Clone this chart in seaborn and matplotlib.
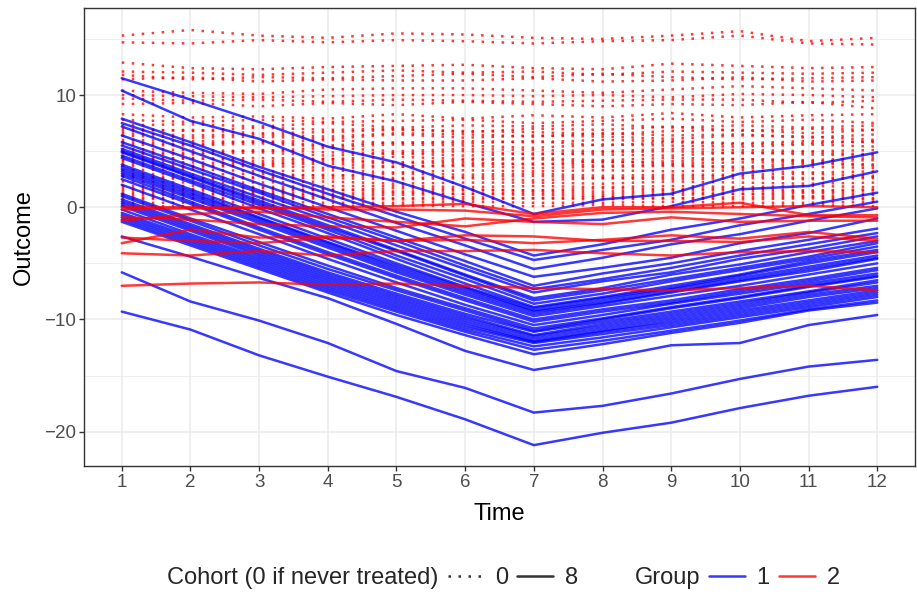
import matplotlib
matplotlib.use("Agg")
import matplotlib.pyplot as plt
from matplotlib.lines import Line2D
import pandas as pd
import seaborn as sns

time = list(range(1, 13))

# Group 1, cohort 8 (blue, solid)
blue_cohort8 = [
    [11.5, 9.6, 7.6, 5.4, 4.0, 1.8, -0.6, 0.7, 1.2, 3.0, 3.7, 4.9],
    [10.4, 7.7, 6.1, 3.7, 2.3, 0.4, -1.3, -1.1, 0.1, 1.6, 1.9, 3.2],
    [7.9, 5.8, 3.6, 1.6, -0.4, -2.2, -4.3, -3.3, -2.0, -1.0, 0.2, 1.3],
    [7.5, 5.5, 3.3, 1.2, -0.8, -2.8, -4.7, -3.8, -2.9, -1.6, -0.6, 0.5],
    [7.2, 5.0, 2.8, 0.7, -1.4, -3.4, -5.5, -4.5, -3.3, -2.4, -1.2, -0.1],
    [6.4, 4.3, 2.1, 0.0, -2.1, -4.2, -6.2, -5.4, -4.5, -3.2, -2.3, -1.0],
    [5.8, 3.7, 1.5, -0.6, -2.7, -4.8, -7.0, -5.9, -5.0, -3.9, -2.9, -1.9],
    [5.5, 3.4, 1.3, -0.9, -3.0, -5.2, -7.3, -6.4, -5.4, -4.3, -3.3, -2.3],
    [5.2, 3.0, 0.9, -1.2, -3.4, -5.5, -7.6, -6.6, -5.8, -4.6, -3.7, -2.6],
    [5.0, 2.8, 0.6, -1.6, -3.8, -6.0, -8.1, -7.2, -6.0, -5.1, -4.0, -3.0],
    [4.9, 2.7, 0.4, -1.8, -3.9, -6.1, -8.3, -7.4, -6.4, -5.4, -4.4, -3.2],
    [4.6, 2.4, 0.2, -2.0, -4.3, -6.4, -8.6, -7.7, -6.6, -5.6, -4.6, -3.5],
    [4.4, 2.2, -0.1, -2.3, -4.6, -6.8, -8.9, -8.0, -7.0, -6.0, -4.8, -3.8],
    [3.8, 1.6, -0.6, -2.8, -5.0, -7.1, -9.0, -8.1, -7.2, -6.1, -5.0, -4.0],
    [3.6, 1.4, -0.9, -3.1, -5.2, -7.2, -9.2, -8.3, -7.3, -6.3, -5.3, -4.3],
    [3.4, 1.2, -1.0, -3.2, -5.4, -7.4, -9.3, -8.5, -7.5, -6.5, -5.5, -4.5],
    [3.2, 1.0, -1.2, -3.4, -5.6, -7.6, -9.5, -8.6, -7.6, -6.6, -5.7, -4.6],
    [3.0, 0.8, -1.4, -3.6, -5.8, -7.8, -9.7, -8.8, -7.9, -7.0, -6.0, -5.0],
    [2.8, 0.5, -1.8, -4.0, -6.1, -8.1, -10.0, -9.1, -8.3, -7.3, -6.4, -5.4],
    [2.5, 0.3, -2.0, -4.2, -6.3, -8.3, -10.2, -9.3, -8.5, -7.5, -6.6, -5.6],
    [2.0, -0.2, -2.4, -4.6, -6.7, -8.7, -10.5, -9.6, -8.6, -7.7, -6.8, -5.9],
    [1.2, -1.0, -3.1, -5.2, -7.2, -9.0, -10.8, -9.9, -8.9, -8.0, -7.0, -6.1],
    [1.0, -1.2, -3.4, -5.5, -7.4, -9.2, -11.0, -10.0, -9.0, -8.1, -7.1, -6.2],
    [0.7, -1.5, -3.7, -5.8, -7.7, -9.5, -11.1, -10.2, -9.3, -8.4, -7.5, -6.5],
    [0.5, -1.7, -3.9, -6.0, -7.9, -9.7, -11.4, -10.4, -9.5, -8.6, -7.6, -6.7],
    [0.3, -1.9, -4.1, -6.2, -8.1, -9.9, -11.5, -10.6, -9.7, -8.8, -7.8, -7.0],
    [0.1, -2.1, -4.3, -6.4, -8.3, -10.1, -11.7, -10.8, -9.9, -9.0, -8.0, -7.2],
    [-0.2, -2.4, -4.5, -6.6, -8.5, -10.3, -11.9, -11.0, -10.1, -9.2, -8.3, -7.4],
    [-0.5, -2.6, -4.7, -6.8, -8.7, -10.5, -12.0, -11.1, -10.3, -9.4, -8.5, -7.6],
    [-0.7, -2.8, -4.9, -7.0, -8.9, -10.7, -12.1, -11.3, -10.5, -9.6, -8.7, -7.8],
    [-0.9, -3.0, -5.1, -7.2, -9.1, -10.9, -12.4, -11.6, -10.7, -9.8, -8.9, -8.0],
    [-1.1, -3.2, -5.3, -7.4, -9.3, -11.1, -12.7, -11.9, -11.0, -10.1, -9.1, -8.3],
    [-1.3, -3.4, -5.5, -7.6, -9.6, -11.4, -13.1, -12.2, -11.2, -10.3, -9.2, -8.5],
    [-2.6, -4.4, -6.3, -8.1, -10.4, -12.8, -14.5, -13.5, -12.3, -12.1, -10.5, -9.6],
    [-5.8, -8.4, -10.1, -12.1, -14.6, -16.1, -18.3, -17.7, -16.6, -15.3, -14.2, -13.6],
    [-9.3, -10.9, -13.2, -15.1, -16.9, -18.9, -21.2, -20.1, -19.2, -17.9, -16.8, -16.0],
]

# Group 2, cohort 8 (red, solid)
red_cohort8 = [
    [0.0, 0.0, -0.1, 0.0, 0.1, 0.3, -0.6, 0.0, 0.0, 0.4, -0.7, -0.7],
    [-0.2, -0.1, 0.0, -0.2, -0.2, -0.3, -0.8, -0.2, -0.1, 0.0, 0.1, 0.0],
    [-0.9, -1.1, -1.5, -1.7, -1.8, -1.0, -1.3, -1.5, -0.9, -1.3, -1.2, -1.2],
    [-1.2, -0.6, -0.4, -0.9, -1.3, -1.7, -1.0, -0.5, -0.4, -0.6, -0.8, -0.9],
    [-2.7, -3.0, -3.2, -2.7, -3.0, -2.9, -3.2, -2.9, -2.5, -2.8, -2.2, -2.8],
    [-3.2, -2.0, -2.7, -2.6, -3.0, -2.5, -2.6, -3.0, -3.0, -3.1, -2.6, -3.0],
    [-4.1, -4.3, -3.9, -4.3, -3.9, -3.9, -3.8, -4.1, -4.3, -4.0, -3.9, -4.0],
    [-7.0, -6.8, -6.7, -6.9, -6.8, -7.0, -7.2, -7.3, -7.4, -7.2, -7.0, -7.4],
]

# Group 2, cohort 0 / never treated (red, dotted)
red_cohort0 = [
    [15.3, 15.8, 15.3, 15.1, 15.5, 15.4, 15.1, 15.0, 15.3, 15.7, 14.8, 15.1],
    [14.7, 14.6, 14.9, 14.7, 14.9, 14.8, 14.6, 14.8, 14.9, 15.3, 14.6, 14.5],
    [12.9, 12.4, 12.3, 12.5, 12.6, 12.7, 12.4, 12.3, 12.8, 12.6, 12.4, 12.5],
    [12.1, 12.0, 11.8, 12.0, 12.2, 12.0, 12.1, 11.8, 12.1, 12.0, 11.9, 12.0],
    [11.8, 11.4, 11.6, 11.5, 11.7, 11.9, 11.6, 11.9, 11.6, 11.4, 11.5, 11.6],
    [11.4, 11.6, 11.2, 11.4, 11.3, 11.3, 11.5, 11.2, 11.3, 11.6, 11.2, 11.3],
    [10.4, 10.2, 10.1, 10.5, 10.6, 10.6, 10.4, 10.2, 10.5, 10.8, 10.6, 10.4],
    [10.0, 9.9, 9.8, 9.9, 10.0, 10.0, 9.9, 10.0, 9.8, 10.1, 10.0, 9.8],
    [9.7, 9.5, 9.6, 9.4, 9.6, 9.5, 9.4, 9.5, 9.6, 9.6, 9.3, 9.5],
    [9.2, 9.3, 9.0, 9.3, 9.1, 9.4, 9.2, 9.0, 9.2, 9.1, 9.4, 8.8],
    [8.3, 8.0, 8.1, 7.9, 8.3, 7.9, 8.2, 8.0, 8.4, 8.0, 8.2, 8.3],
    [7.8, 7.6, 7.8, 7.6, 7.7, 7.8, 7.5, 7.7, 7.9, 7.6, 7.8, 7.5],
    [7.3, 7.4, 7.2, 7.5, 7.1, 7.3, 7.2, 7.4, 7.1, 7.3, 7.1, 7.3],
    [7.0, 6.8, 7.1, 6.9, 7.0, 6.7, 7.0, 6.9, 7.2, 6.8, 7.0, 6.9],
    [6.8, 6.9, 6.6, 6.7, 6.9, 6.8, 6.7, 6.5, 6.8, 6.9, 6.6, 6.9],
    [6.6, 6.4, 6.5, 6.3, 6.6, 6.5, 6.3, 6.6, 6.4, 6.5, 6.2, 6.5],
    [6.4, 6.2, 6.3, 6.1, 6.5, 6.2, 6.4, 6.3, 6.1, 6.4, 6.3, 6.0],
    [6.0, 5.9, 5.8, 6.0, 5.7, 5.9, 5.8, 6.0, 5.9, 5.7, 5.9, 5.8],
    [5.8, 5.6, 5.9, 5.5, 5.8, 5.7, 5.9, 5.5, 5.8, 5.6, 5.7, 5.9],
    [5.6, 5.5, 5.7, 5.4, 5.6, 5.5, 5.3, 5.6, 5.5, 5.4, 5.6, 5.4],
    [5.2, 5.1, 5.0, 5.3, 5.0, 5.2, 5.1, 5.0, 5.2, 5.1, 5.0, 5.1],
    [5.0, 4.8, 5.1, 4.9, 4.8, 5.0, 4.7, 4.9, 5.0, 4.8, 4.9, 4.7],
    [4.8, 4.7, 4.9, 4.6, 4.8, 4.6, 4.8, 4.7, 4.6, 4.9, 4.7, 4.6],
    [4.5, 4.3, 4.4, 4.3, 4.5, 4.3, 4.4, 4.2, 4.4, 4.3, 4.2, 4.4],
    [4.2, 4.4, 4.1, 4.3, 4.0, 4.2, 4.3, 4.0, 4.1, 4.3, 4.1, 4.2],
    [4.1, 4.0, 3.9, 4.1, 3.9, 4.0, 3.8, 4.1, 3.9, 4.0, 4.0, 3.8],
    [3.9, 3.7, 3.8, 3.9, 3.6, 3.8, 3.9, 3.7, 3.8, 3.6, 3.9, 3.7],
    [3.7, 3.6, 3.7, 3.5, 3.6, 3.7, 3.5, 3.6, 3.7, 3.5, 3.6, 3.5],
    [3.3, 3.4, 3.2, 3.3, 3.1, 3.3, 3.2, 3.3, 3.2, 3.3, 3.1, 3.2],
    [3.0, 2.9, 3.0, 2.8, 3.0, 2.9, 3.0, 2.8, 2.9, 2.9, 3.0, 2.8],
    [2.8, 2.6, 2.7, 2.9, 2.6, 2.7, 2.8, 2.6, 2.7, 2.8, 2.6, 2.7],
    [2.7, 2.5, 2.6, 2.6, 2.5, 2.6, 2.4, 2.6, 2.5, 2.6, 2.5, 2.6],
    [2.3, 2.2, 2.2, 2.3, 2.1, 2.2, 2.2, 2.1, 2.3, 2.2, 2.1, 2.2],
    [1.9, 1.9, 1.8, 1.9, 1.9, 1.8, 1.9, 1.8, 1.9, 1.8, 1.9, 1.8],
    [1.7, 1.6, 1.7, 1.5, 1.7, 1.6, 1.5, 1.7, 1.6, 1.7, 1.5, 1.6],
    [1.5, 1.5, 1.4, 1.6, 1.4, 1.5, 1.5, 1.4, 1.5, 1.5, 1.4, 1.5],
    [1.3, 1.2, 1.3, 1.2, 1.3, 1.2, 1.3, 1.2, 1.3, 1.2, 1.3, 1.2],
    [1.1, 1.1, 1.2, 1.0, 1.1, 1.2, 1.1, 1.0, 1.1, 1.2, 1.0, 1.1],
    [0.9, 0.8, 0.9, 0.9, 0.8, 0.9, 0.8, 0.9, 0.8, 0.9, 0.9, 0.8],
    [0.7, 0.8, 0.7, 0.8, 0.7, 0.7, 0.8, 0.7, 0.8, 0.7, 0.8, 0.7],
    [0.4, 0.4, 0.5, 0.4, 0.4, 0.5, 0.4, 0.4, 0.5, 0.4, 0.4, 0.5],
    [0.1, 0.1, 0.2, 0.1, 0.2, 0.1, 0.1, 0.2, 0.1, 0.1, 0.2, 0.1],
]

y_ticks = [-20, -10, 0, 10]
x_ticks = time


def frame(lines, group, cohort, start):
    rows = []
    for k, vals in enumerate(lines):
        for t, v in zip(time, vals):
            rows.append({"id": start + k, "Time": t, "Outcome": v,
                         "Group": group, "Cohort": cohort})
    return pd.DataFrame(rows)


df_dot = frame(red_cohort0, 2, 0, 0)
df_blue = frame(blue_cohort8, 1, 8, 100)
df_red = frame(red_cohort8, 2, 8, 200)

sns.set_theme(style="whitegrid")
plt.rcParams["font.family"] = ["Liberation Sans", "DejaVu Sans"]

fig = plt.figure(figsize=(9.17, 5.95), dpi=100)
ax = fig.add_axes([84 / 917, 1 - 466 / 595, (915 - 84) / 917, (466 - 8) / 595])

LW = 1.8
ALPHA = 0.78
DOT = (1, 3)

n0 = len(ax.lines)
sns.lineplot(data=df_dot, x="Time", y="Outcome", units="id", estimator=None,
             color="red", lw=LW, alpha=ALPHA, legend=False, ax=ax)
for ln in ax.lines[n0:]:
    ln.set_dashes(DOT)
sns.lineplot(data=df_blue, x="Time", y="Outcome", units="id", estimator=None,
             color="blue", lw=LW, alpha=ALPHA, legend=False, ax=ax)
sns.lineplot(data=df_red, x="Time", y="Outcome", units="id", estimator=None,
             color="red", lw=LW, alpha=ALPHA, legend=False, ax=ax)

ax.set_xlim(0.45, 12.55)
ax.set_ylim(-23.06, 17.76)
ax.set_xticks(x_ticks)
ax.set_xticklabels([str(t) for t in x_ticks])
ax.set_yticks(y_ticks)
ax.set_yticks([-15, -5, 5, 15], minor=True)

ax.set_facecolor("white")
ax.grid(True, which="major", color="#EBEBEB", lw=1.1)
ax.grid(True, which="minor", axis="y", color="#EBEBEB", lw=0.55)
ax.set_axisbelow(True)
for sp in ax.spines.values():
    sp.set_color("#333333")
    sp.set_linewidth(1.0)
    sp.set_visible(True)

ax.tick_params(axis="both", which="major", length=3.5, width=1.0, color="#333333",
               labelcolor="#4D4D4D", labelsize=13.5, pad=2, bottom=True, left=True)
ax.tick_params(axis="both", which="minor", length=0)

ax.set_xlabel("Time", fontsize=17, color="black", labelpad=9)
ax.set_ylabel("Outcome", fontsize=17, color="black", labelpad=7)

blank = Line2D([], [], color="none")
handles = [
    blank,
    Line2D([], [], color="#333333", lw=LW, dashes=DOT),
    Line2D([], [], color="#333333", lw=LW),
    blank,
    Line2D([], [], color="blue", lw=LW, alpha=ALPHA),
    Line2D([], [], color="red", lw=LW, alpha=ALPHA),
]
labels = ["Cohort (0 if never treated)", "0", "8", "Group", "1", "2"]
leg = fig.legend(handles, labels, loc="center", bbox_to_anchor=(0.523, 1 - 578 / 595),
                 ncol=6, frameon=False, fontsize=17, handlelength=1.5,
                 handletextpad=0.5, columnspacing=0.4)

fig.savefig("out.png", dpi=100)
